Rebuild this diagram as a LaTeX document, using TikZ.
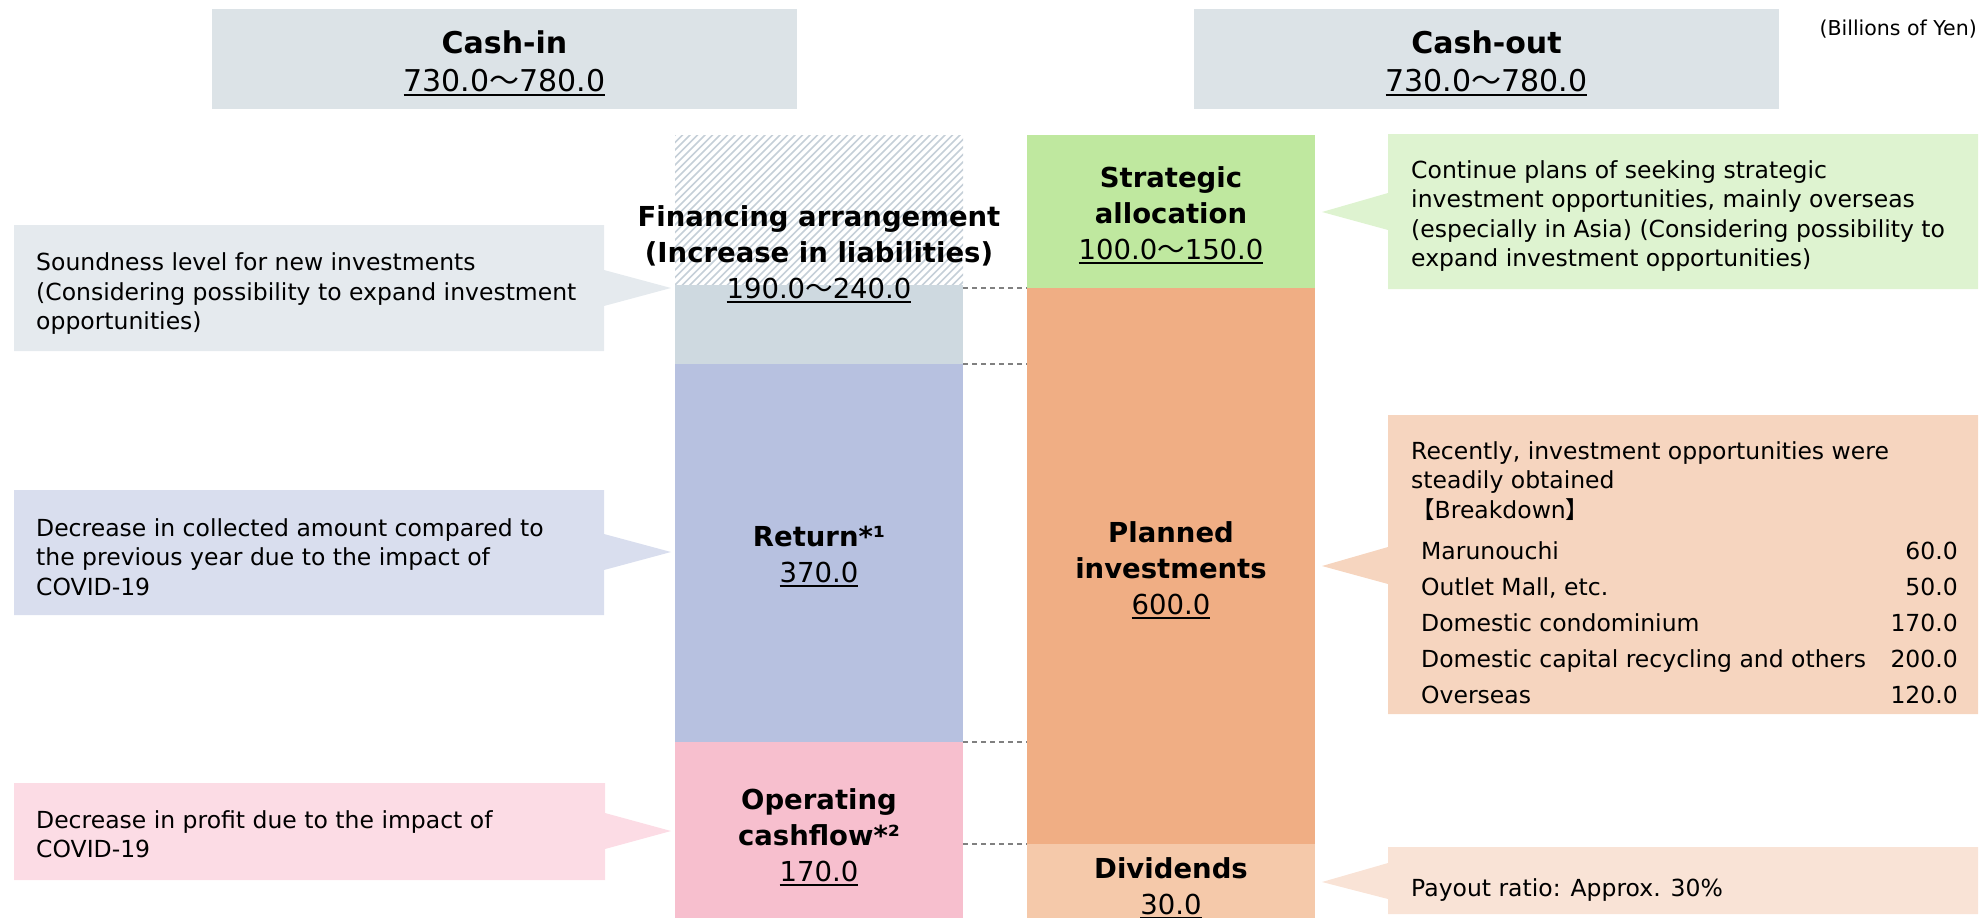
\documentclass[tikz,border=0pt]{standalone}
\usepackage{fontspec}
\setmainfont{DejaVu Sans}
\newfontfamily\cjk{Noto Sans CJK JP}
\newcommand\ulx[1]{\setbox0=\hbox{#1}\leavevmode\rlap{\rule[-4.5pt]{\wd0}{2pt}}\box0}
\newcommand\wave{{\cjk ～}}
\definecolor{hdr}{HTML}{DCE3E7}
\definecolor{hatchc}{HTML}{C5CFD8}
\definecolor{grayblk}{HTML}{CED9E0}
\definecolor{retblk}{HTML}{B7C1E0}
\definecolor{opblk}{HTML}{F7BFCE}
\definecolor{strblk}{HTML}{BFE89F}
\definecolor{planblk}{HTML}{F0AE84}
\definecolor{divblk}{HTML}{F5C9AA}
\definecolor{cLa}{HTML}{E5EAEE}
\definecolor{cLb}{HTML}{D9DEEE}
\definecolor{cLc}{HTML}{FCDCE5}
\definecolor{cRa}{HTML}{DEF3D0}
\definecolor{cRb}{HTML}{F6D5BF}
\definecolor{cRc}{HTML}{F9E3D6}
\definecolor{dashc}{HTML}{808080}
\begin{document}
\begin{tikzpicture}[x=1pt,y=-1pt,
  blk/.style={inner sep=0pt,outer sep=0pt,anchor=north west},
  ttl/.style={font=\fontsize{27.5}{36}\selectfont,align=center,inner sep=0pt},
  hdrtxt/.style={font=\fontsize{30}{38}\selectfont,align=center,inner sep=0pt},
  note/.style={font=\fontsize{23.5}{29.5}\selectfont,align=left,anchor=west,inner sep=0pt},
  rowtxt/.style={font=\fontsize{23.5}{29.5}\selectfont,inner sep=0pt,text height=17pt,text depth=5pt},
  dashline/.style={draw=dashc,line width=1.5pt,dash pattern=on 5pt off 4pt}]
\useasboundingbox (0,0) rectangle (1981,918);

% headers
\node[blk,fill=hdr,minimum width=585pt,minimum height=100pt] (cashin) at (212,9) {};
\node[hdrtxt] (cashinT) at ([yshift=-4pt]cashin.center) {\textbf{Cash-in}\\\ulx{730.0\wave780.0}};
\node[blk,fill=hdr,minimum width=585pt,minimum height=100pt] (cashout) at (1194,9) {};
\node[hdrtxt] (cashoutT) at ([yshift=-4pt]cashout.center) {\textbf{Cash-out}\\\ulx{730.0\wave780.0}};
\node[font=\fontsize{20.5}{24}\selectfont,anchor=east,inner sep=0pt] (unit) at (1977,29) {(Billions of Yen)};

% left column
\node[blk,minimum width=288pt,minimum height=150pt] (fin) at (675,135) {};
\begin{scope}
\clip (fin.north west) rectangle (fin.south east);
\foreach \i in {0,...,62} \draw[hatchc,line width=1.6pt] (520+\i*7.5,290) -- ++(156,-156);
\end{scope}
\node[blk,fill=grayblk,minimum width=288pt,minimum height=79pt] (gray) at (675,285) {};
\node[blk,fill=retblk,minimum width=288pt,minimum height=378pt] (ret) at (675,364) {};
\node[blk,fill=opblk,minimum width=288pt,minimum height=176pt] (op) at (675,742) {};

% right column
\node[blk,fill=strblk,minimum width=288pt,minimum height=153pt] (strat) at (1027,135) {};
\node[blk,fill=planblk,minimum width=288pt,minimum height=556pt] (plan) at (1027,288) {};
\node[blk,fill=divblk,minimum width=288pt,minimum height=74pt] (div) at (1027,844) {};

% column texts
\node[ttl] (finT) at (819,254) {\textbf{Financing arrangement}\\\textbf{(Increase in liabilities)}\\\ulx{190.0\wave240.0}};
\node[ttl] (retT) at (819,557) {\textbf{Return*¹}\\\ulx{370.0}};
\node[ttl] (opT) at (819,837) {\textbf{Operating}\\\textbf{cashflow*²}\\\ulx{170.0}};
\node[ttl] (strT) at (1171,215) {\textbf{Strategic}\\\textbf{allocation}\\\ulx{100.0\wave150.0}};
\node[ttl] (planT) at (1171,570) {\textbf{Planned}\\\textbf{investments}\\\ulx{600.0}};
\node[ttl] (divT) at (1171,888) {\textbf{Dividends}\\\ulx{30.0}};

% dashed guides
\draw[dashline] (strat.south -| gray.east) -- (plan.north west);
\draw[dashline] (ret.north east) -- (plan.west |- ret.north);
\draw[dashline] (op.north east) -- (plan.west |- op.north);
\draw[dashline] (op.east |- div.north) -- (div.north west);

% left callouts
\fill[cLa] (14,225) -- (604,225) -- (604,270) -- (671,288) -- (604,306) -- (604,351) -- (14,351) -- cycle;
\node[note] (nLa) at (36,294) {Soundness level for new investments\\(Considering possibility to expand investment\\opportunities)};
\fill[cLb] (14,490) -- (604,490) -- (604,534) -- (671,552) -- (604,570) -- (604,615) -- (14,615) -- cycle;
\node[note] (nLb) at (36,557) {Decrease in collected amount compared to\\the previous year due to the impact of\\COVID-19};
\fill[cLc] (14,783) -- (605,783) -- (605,813) -- (671,831) -- (605,849) -- (605,880) -- (14,880) -- cycle;
\node[note] (nLc) at (36,834) {Decrease in profit due to the impact of\\COVID-19};

% right callouts
\fill[cRa] (1388,134) -- (1978,134) -- (1978,289) -- (1388,289) -- (1388,230) -- (1322,212) -- (1388,193) -- cycle;
\node[note] (nRa) at (1411,216) {Continue plans of seeking strategic\\investment opportunities, mainly overseas\\(especially in Asia) (Considering possibility to\\expand investment opportunities)};
\fill[cRb] (1388,415) -- (1978,415) -- (1978,714) -- (1388,714) -- (1388,584) -- (1322,566) -- (1388,547) -- cycle;
\node[note] (nRb) at (1411,481) {Recently, investment opportunities were\\steadily obtained\\{\cjk 【}Breakdown{\cjk 】}};
\node[rowtxt,anchor=west] (r1l) at (1421,553) {Marunouchi};
\node[rowtxt,anchor=east] (r1v) at (1958,553) {60.0};
\node[rowtxt,anchor=west] (r2l) at (1421,589) {Outlet Mall, etc.};
\node[rowtxt,anchor=east] (r2v) at (1958,589) {50.0};
\node[rowtxt,anchor=west] (r3l) at (1421,625) {Domestic condominium};
\node[rowtxt,anchor=east] (r3v) at (1958,625) {170.0};
\node[rowtxt,anchor=west] (r4l) at (1421,661) {Domestic capital recycling and others};
\node[rowtxt,anchor=east] (r4v) at (1958,661) {200.0};
\node[rowtxt,anchor=west] (r5l) at (1421,697) {Overseas};
\node[rowtxt,anchor=east] (r5v) at (1958,697) {120.0};
\fill[cRc] (1388,847) -- (1978,847) -- (1978,914) -- (1388,914) -- (1388,899) -- (1322,882) -- (1388,863) -- cycle;
\node[note] (nRc) at (1411,890) {Payout ratio: Approx. 30\%};
\end{tikzpicture}
\end{document}
